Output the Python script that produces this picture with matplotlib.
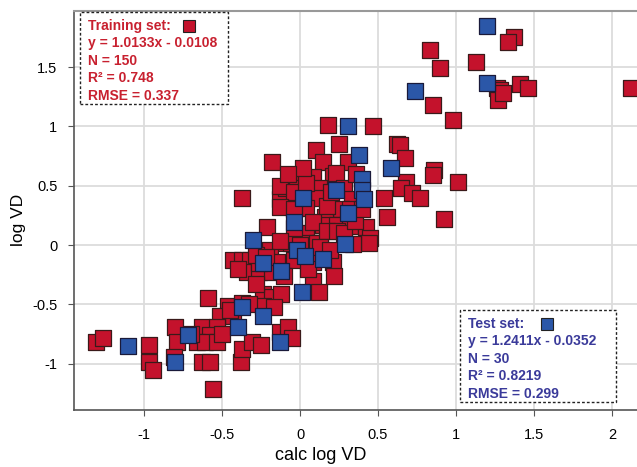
import matplotlib.pyplot as plt
from matplotlib.patches import Rectangle

plt.rcParams['font.family'] = ['Liberation Sans', 'DejaVu Sans']

# training set (calc log VD, log VD)
train_x = [1.37, 1.33, 0.83, 1.13, 0.90, 1.26, 1.28, 1.27, 1.41, 1.46,
           2.12, 0.85, 0.98, 0.18, 0.47, 0.25, 0.62, 0.64, 0.31, 0.67,
           0.86, 0.85, 1.01, 0.68, 0.65, 0.72, 0.77, 0.10, 0.15, -0.18,
           0.08, 0.01, 0.21, 0.23, 0.12, 0.28, 0.33, 0.54, 0.12, -0.37,
           -0.13, -0.09, -0.02, -0.02, 0.04, 0.19, 0.26, 0.16, 0.56, 0.92,
           0.08, 0.15, 0.24, 0.32, 0.42, 0.04, 0.45, 0.44, 0.34, 0.13,
           0.05, -0.21, 0.08, -0.11, -0.06, 0.11, -0.19, -0.43, -0.37, -0.32,
           -0.15, -0.34, -0.26, -0.18, -0.04, 0.08, 0.21, 0.22, 0.08, 0.12,
           -0.24, -0.18, -0.12, -0.24, -0.17, -0.59, -0.46, -0.37, -0.51, -0.43,
           -0.80, -0.63, -0.53, -0.58, -0.79, -0.66, -0.61, -0.53, -1.31, -1.26,
           -0.97, -0.97, -0.94, -0.81, -0.63, -0.58, -0.38, -0.37, -0.31, -0.25,
           -0.13, -0.08, -0.05, -0.56, -0.13, -0.04, 0.04, -0.13, -0.04, 0.17,
           0.32, -0.04, 0.17, 0.24, -0.13, 0.00, 0.13, 0.19, -0.26, -0.28,
           -0.40, -0.10, -0.28, 0.05, 0.28, 0.35, 0.20, 0.02, -0.08, 0.36,
           -0.50, -0.70, -0.45, -0.33, 1.30, 0.40, -0.22]
train_y = [1.75, 1.71, 1.64, 1.54, 1.49, 1.32, 1.31, 1.22, 1.36, 1.32,
           1.32, 1.18, 1.05, 1.01, 1.00, 0.85, 0.85, 0.84, 0.70, 0.73,
           0.63, 0.59, 0.53, 0.53, 0.48, 0.44, 0.40, 0.80, 0.70, 0.70,
           0.57, 0.57, 0.58, 0.61, 0.48, 0.48, 0.39, 0.40, 0.40, 0.40,
           0.39, 0.48, 0.48, 0.35, 0.31, 0.31, 0.30, 0.24, 0.24, 0.22,
           0.17, 0.17, 0.17, 0.16, 0.15, 0.10, 0.06, 0.02, 0.01, 0.02,
           0.02, 0.15, 0.19, 0.02, 0.02, 0.02, -0.04, -0.13, -0.13, -0.13,
           -0.14, -0.23, -0.23, -0.23, -0.13, -0.14, -0.14, -0.26, -0.30, -0.40,
           -0.41, -0.44, -0.41, -0.51, -0.52, -0.45, -0.51, -0.49, -0.60, -0.60,
           -0.69, -0.69, -0.69, -0.76, -0.82, -0.82, -0.82, -0.82, -0.82, -0.78,
           -0.84, -0.99, -1.05, -0.94, -0.99, -0.99, -0.99, -0.88, -0.82, -0.84,
           -0.73, -0.69, -0.78, -1.21, 0.50, 0.45, 0.52, 0.32, 0.30, 0.33,
           0.30, 0.14, 0.12, 0.12, 0.03, 0.00, -0.02, -0.04, -0.15, -0.08,
           -0.20, -0.26, -0.33, -0.20, 0.10, 0.20, 0.45, 0.65, 0.60, 0.60,
           -0.75, -0.75, -0.55, -0.50, 1.28, 0.30, -0.10]

# test set
test_x = [1.20, 0.74, 1.20, 0.31, 0.38, 0.58, 0.40, 0.23, 0.40, 0.41,
          0.02, 0.31, -0.04, -0.30, 0.29, -0.02, 0.03, 0.15, -0.24, -0.12,
          0.01, -0.37, -0.24, -0.40, -0.72, -1.10, -0.80, -0.13]
test_y = [1.85, 1.30, 1.37, 1.00, 0.76, 0.65, 0.56, 0.46, 0.46, 0.39,
          0.40, 0.27, 0.19, 0.04, 0.01, -0.04, -0.09, -0.12, -0.15, -0.22,
          -0.40, -0.52, -0.60, -0.69, -0.76, -0.85, -0.99, -0.82]

train_text = ['Training set:', 'y = 1.0133x - 0.0108', 'N = 150',
              'R\u00b2 = 0.748', 'RMSE = 0.337']
test_text = ['Test set:', 'y = 1.2411x - 0.0352', 'N = 30',
             'R\u00b2 = 0.8219', 'RMSE = 0.299']

xticks = [-1, -0.5, 0, 0.5, 1, 1.5, 2]
yticks = [-1, -0.5, 0, 0.5, 1, 1.5]

red = '#c4122c'
blue = '#2b57a8'

W, H = 637, 467
fig = plt.figure(figsize=(W / 100, H / 100), dpi=100)
ax = fig.add_axes([74 / W, 1 - 410 / H, 1 - 74 / W, (410 - 11) / H])

ax.set_xlim(-1.449, 2.16)
ax.set_ylim(-1.391, 1.973)
ax.set_xticks(xticks)
ax.set_xticklabels(['-1', '-0.5', '0', '0.5', '1', '1.5', '2'])
ax.set_yticks(yticks)
ax.set_yticklabels(['-1', '-0.5', '0', '0.5', '1', '1.5'])
ax.grid(True, color='#dcdcdc', lw=1.3, zorder=0)
ax.set_axisbelow(True)
ax.tick_params(labelsize=10.5, length=4, color='#555555', pad=8)
ax.tick_params(axis='x', pad=9)

for s in ['left', 'bottom']:
    ax.spines[s].set_color('#555555')
    ax.spines[s].set_linewidth(1.2)
ax.spines['top'].set_color('#999999')
ax.spines['top'].set_linewidth(1.5)
ax.spines['right'].set_visible(False)

ax.scatter(train_x, train_y, marker='s', s=135, c=red,
           edgecolors='#3a1a1a', linewidths=0.9, zorder=3)
ax.scatter(test_x, test_y, marker='s', s=135, c=blue,
           edgecolors='#1a1a3a', linewidths=0.9, zorder=4)

ax.set_xlabel('calc log VD', fontsize=13, va='center')
ax.set_ylabel('log VD', fontsize=12.5, va='center')
ax.xaxis.set_label_coords((321 - 74) / 563, -45 / 399)
ax.yaxis.set_label_coords((18 - 74) / 563, (410 - 220) / 399)


def stat_box(x0, y0, x1, y1, lines, color, mcolor, mx):
    # dashed frame in figure pixels, text lines stacked inside
    fig.patches.append(Rectangle((x0 / W, 1 - y1 / H), (x1 - x0) / W, (y1 - y0) / H,
                                 transform=fig.transFigure, fill=True, fc='white',
                                 ec='#222222', lw=1.0, ls=(0, (2, 1.5)), zorder=5))
    for i, t in enumerate(lines):
        fig.text((x0 + 8) / W, 1 - (y0 + 14 + 17.5 * i) / H, t, color=color,
                 fontsize=10, fontweight='bold', va='center', ha='left', zorder=6)
    fig.patches.append(Rectangle((mx / W, 1 - (y0 + 20) / H), 12 / W, 12 / H,
                                 transform=fig.transFigure, fc=mcolor,
                                 ec='#222222', lw=0.8, zorder=6))


stat_box(80, 12, 228, 104, train_text, '#c8202f', red, 183)
stat_box(460, 310, 616, 402, test_text, '#3a3a9a', blue, 541)

fig.savefig('out.png', dpi=100)
